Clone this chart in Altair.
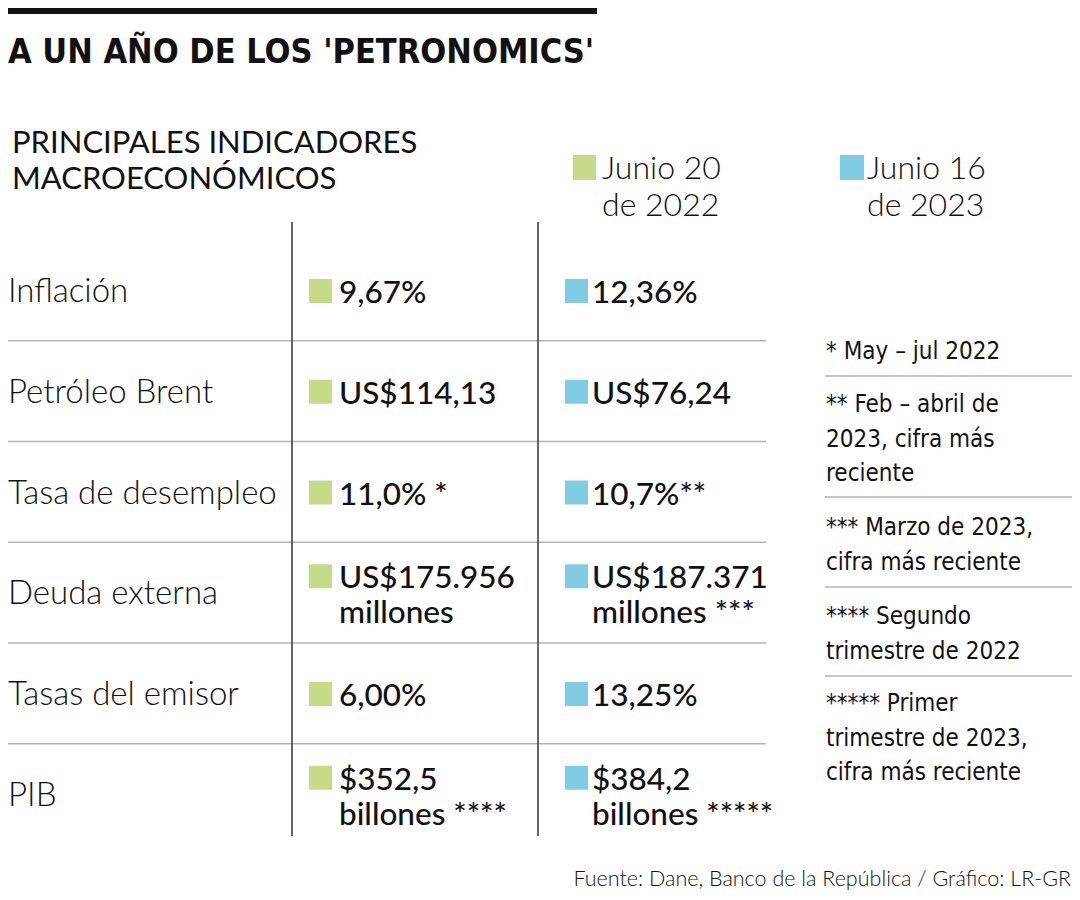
import altair as alt
import pandas as pd

# ---------------- data ----------------
title = "A UN AÑO DE LOS 'PETRONOMICS'"
header_lines = ["PRINCIPALES INDICADORES", "MACROECONÓMICOS"]
legend_2022 = ["Junio 20", "de 2022"]
legend_2023 = ["Junio 16", "de 2023"]
indicators = ["Inflación", "Petróleo Brent", "Tasa de desempleo",
              "Deuda externa", "Tasas del emisor", "PIB"]
values_2022 = [["9,67%"], ["US$114,13"], ["11,0% *"],
               ["US$175.956", "millones"], ["6,00%"], ["$352,5", "billones ****"]]
values_2023 = [["12,36%"], ["US$76,24"], ["10,7%**"],
               ["US$187.371", "millones ***"], ["13,25%"], ["$384,2", "billones *****"]]
notes = [["* May – jul 2022"],
         ["** Feb – abril de", "2023, cifra más", "reciente"],
         ["*** Marzo de 2023,", "cifra más reciente"],
         ["**** Segundo", "trimestre de 2022"],
         ["***** Primer", "trimestre de 2023,", "cifra más reciente"]]
source = "Fuente: Dane, Banco de la República / Gráfico: LR-GR"

GREEN = "#c6da88"
BLUE = "#80cce3"
REG = "Lato, 'Open Sans', sans-serif"
NARROW = "'Liberation Sans Narrow', 'DejaVu Sans Condensed', sans-serif"

# ---------------- layout (page pixel space) ----------------
W, H = 1064, 884
X0, Y0 = 8, 8
ROW_C0, ROW_STEP = 290, 100.75

xs = alt.Scale(domain=[X0, X0 + W], range=[0, W])
ys = alt.Scale(domain=[Y0, Y0 + H], range=[0, H])

def X(f="x"):
    return alt.X(f"{f}:Q", scale=xs, axis=None)

def Y(f="y"):
    return alt.Y(f"{f}:Q", scale=ys, axis=None)

texts = []  # x, y, text, group
texts.append((8, 63, title, "title"))
for i, t in enumerate(header_lines):
    texts.append((12, 153 + 36 * i, t, "header"))
for i, t in enumerate(legend_2022):
    texts.append((602, 179 + 37 * i, t, "legend"))
for i, t in enumerate(legend_2023):
    texts.append((867, 179 + 37 * i, t, "legend"))

squares = []  # x, x2, y, y2, color
squares.append((573, 596, 155, 180, "g"))
squares.append((840, 864, 155, 180, "b"))

for i, name in enumerate(indicators):
    c = ROW_C0 + ROW_STEP * i
    texts.append((8, c + 12, name, "label"))
    for vals, xt, xsq, col in ((values_2022[i], 339, 309, "g"),
                               (values_2023[i], 592, 565, "b")):
        if len(vals) == 1:
            bl = [c + 13]
        else:
            bl = [c - 4, c + 31]
        for t, b in zip(vals, bl):
            texts.append((xt, b, t, "value"))
        squares.append((xsq, xsq + 23, bl[0] - 24, bl[0], col))

note_y = [359, 412, 535, 624, 711]
for lines, y in zip(notes, note_y):
    for j, t in enumerate(lines):
        texts.append((826, y + 34.5 * j, t, "note"))
texts.append((1071, 886, source, "source"))

tdf = pd.DataFrame(texts, columns=["x", "y", "text", "group"])
sdf = pd.DataFrame(squares, columns=["x", "x2", "y", "y2", "c"])

rules = []  # x, x2, y, y2, kind
rules.append((292, 292, 222, 836, "v"))
rules.append((538, 538, 222, 836, "v"))
for i in range(1, 6):
    y = ROW_C0 + ROW_STEP * i - 50
    rules.append((8, 766, y, y, "h"))
for y in [376, 497, 587, 676]:
    rules.append((825, 1072, y, y, "h"))
rdf = pd.DataFrame(rules, columns=["x", "x2", "y", "y2", "k"])

bar = pd.DataFrame([{"x": 8, "x2": 597, "y": 8, "y2": 14}])

base_rect = alt.Chart(bar).mark_rect(color="#111").encode(
    x=X(), x2="x2:Q", y=Y(), y2="y2:Q")

sq = alt.Chart(sdf).mark_rect().encode(
    x=X(), x2="x2:Q", y=Y(), y2="y2:Q",
    color=alt.Color("c:N", scale=alt.Scale(domain=["g", "b"], range=[GREEN, BLUE]), legend=None))

vr = alt.Chart(rdf).transform_filter("datum.k == 'v'").mark_rule(
    color="#333", strokeWidth=1.5).encode(x=X(), x2="x2:Q", y=Y(), y2="y2:Q")
hr = alt.Chart(rdf).transform_filter("datum.k == 'h'").mark_rule(
    color="#b5b5b5", strokeWidth=1.5).encode(x=X(), x2="x2:Q", y=Y(), y2="y2:Q")

def tlayer(group, **kw):
    return alt.Chart(tdf).transform_filter(f"datum.group == '{group}'").mark_text(
        baseline="alphabetic", color="#111", **kw).encode(x=X(), y=Y(), text="text:N")

layers = [
    base_rect, hr, vr, sq,
    tlayer("title", font=NARROW, fontSize=34, fontWeight="bold", align="left"),
    tlayer("header", font=REG, fontSize=31, align="left"),
    tlayer("legend", font=REG, fontSize=32, fontWeight=300, align="left"),
    tlayer("label", font=REG, fontSize=33, fontWeight=300, align="left"),
    tlayer("value", font=REG, fontSize=31.5, fontWeight=500, align="left"),
    tlayer("note", font=NARROW, fontSize=24, align="left"),
    tlayer("source", font=REG, fontSize=21.5, fontWeight=300, align="right"),
]

chart = alt.layer(*layers).properties(
    width=W, height=H, padding=0, autosize=alt.AutoSizeParams(type="none")
).configure_view(stroke=None)

chart.save("out.html", embed_options={"renderer": "svg", "actions": False})
